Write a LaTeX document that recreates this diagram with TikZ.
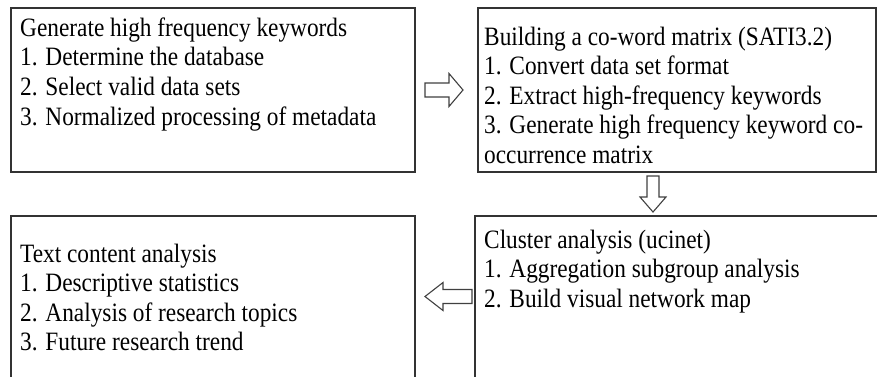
\documentclass[tikz,border=0pt]{standalone}
\usepackage{fontspec}
\setmainfont[FakeStretch=0.88]{Liberation Serif}
\begin{document}
\begin{tikzpicture}[x=1pt,y=-1pt,
  box/.style={draw=black!80,line width=1.1pt},
  txt/.style={anchor=north west,inner sep=0pt,align=left,font=\fontsize{26.5}{29.6}\selectfont},
  arrowline/.style={draw=black!75,line width=1.1pt,line join=miter,fill=white}]
\useasboundingbox (0,0) rectangle (877,376);
\clip (0,0) rectangle (877,376);
% boxes
\draw[box] (11,8) coordinate (b1nw) rectangle (415,172) coordinate (b1se);
\draw[box] (478,8) coordinate (b2nw) rectangle (876,172) coordinate (b2se);
\draw[box] (11,216) coordinate (b3nw) rectangle (415,390) coordinate (b3se);
\draw[box] (475,216) coordinate (b4nw) rectangle (890,390) coordinate (b4se);
% texts
\node[txt] (t1) at (20,17.5) {Generate high frequency keywords\\1. Determine the database\\2. Select valid data sets\\3. Normalized processing of metadata};
\node[txt] (t2) at (484,26.5) {Building a co-word matrix (SATI3.2)\\1. Convert data set format\\2. Extract high-frequency keywords\\3. Generate high frequency keyword co-\\occurrence matrix};
\node[txt] (t3) at (20,243.5) {Text content analysis\\1. Descriptive statistics\\2. Analysis of research topics\\3. Future research trend};
\node[txt] (t4) at (484,229.5) {Cluster analysis (ucinet)\\1. Aggregation subgroup analysis\\2. Build visual network map};
% block arrows
\coordinate (ra) at (444,90);
\coordinate (da) at (653,194);
\coordinate (la) at (448.5,296.5);
\draw[arrowline,shift={(ra)}] (-19,-7) -- (5,-7) -- (5,-16.5) -- (19,0) -- (5,16.5) -- (5,7) -- (-19,7) -- cycle;
\draw[arrowline,shift={(da)}] (-6,-18) -- (6,-18) -- (6,3) -- (13,3) -- (0,18) -- (-13,3) -- (-6,3) -- cycle;
\draw[arrowline,shift={(la)}] (23.5,-7) -- (-5.5,-7) -- (-5.5,-14) -- (-23.5,0) -- (-5.5,14) -- (-5.5,7) -- (23.5,7) -- cycle;
\end{tikzpicture}
\end{document}
